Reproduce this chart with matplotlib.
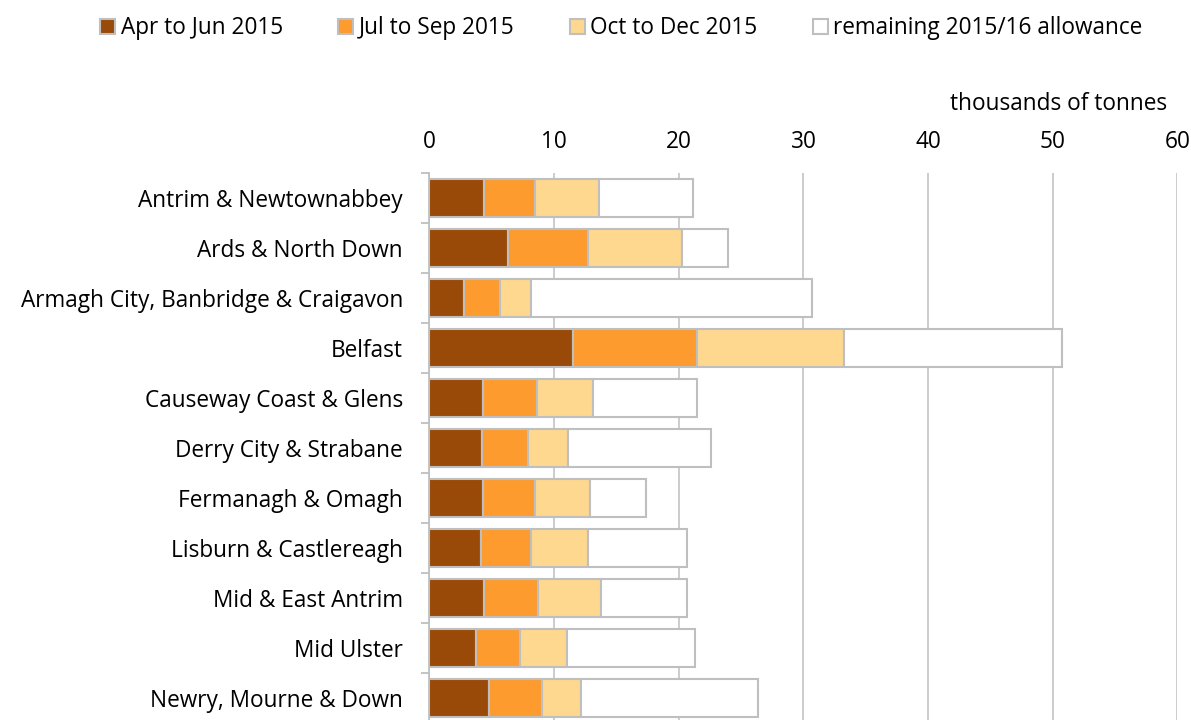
import matplotlib.pyplot as plt
from matplotlib.patches import Patch
import numpy as np

councils = [
    "Antrim & Newtownabbey",
    "Ards & North Down",
    "Armagh City, Banbridge & Craigavon",
    "Belfast",
    "Causeway Coast & Glens",
    "Derry City & Strabane",
    "Fermanagh & Omagh",
    "Lisburn & Castlereagh",
    "Mid & East Antrim",
    "Mid Ulster",
    "Newry, Mourne & Down",
]

# thousands of tonnes
apr_jun = [4.38, 6.29, 2.80, 11.54, 4.33, 4.22, 4.28, 4.17, 4.36, 3.72, 4.76]
jul_sep = [4.11, 6.44, 2.85, 9.96, 4.29, 3.68, 4.21, 3.97, 4.37, 3.58, 4.27]
oct_dec = [5.09, 7.56, 2.49, 11.76, 4.51, 3.19, 4.37, 4.56, 4.99, 3.74, 3.16]
remaining = [7.56, 3.64, 22.58, 17.49, 8.33, 11.48, 4.50, 7.99, 6.92, 10.26, 14.18]

series = [
    ("Apr to Jun 2015", apr_jun, "#9a4a08"),
    ("Jul to Sep 2015", jul_sep, "#fd9b2e"),
    ("Oct to Dec 2015", oct_dec, "#fed88f"),
    ("remaining 2015/16 allowance", remaining, "#ffffff"),
]

plt.rcParams["font.family"] = ["Open Sans", "DejaVu Sans"]
grey = "#bfbfbf"
fs = 16.3

fig = plt.figure(figsize=(11.91, 7.2), dpi=100)
ax = fig.add_axes([0.3606, -0.0042, 0.628, 0.7639])

y = np.arange(len(councils))
left = np.zeros(len(councils))
for name, values, color in series:
    ax.barh(y, values, left=left, height=0.76, color=color,
            edgecolor=grey, linewidth=1.5, zorder=3)
    left += np.array(values)

ax.set_xlim(0, 60)
ax.set_ylim(len(councils) - 0.5, -0.5)
ax.set_xticks(range(0, 61, 10))
ax.xaxis.tick_top()
ax.tick_params(axis="x", length=0, pad=14, labelsize=fs)
ax.grid(axis="x", color="#c8c8c8", linewidth=1.3, zorder=0)

ax.set_yticks(y)
ax.set_yticklabels(councils)
ax.set_yticks(np.arange(-0.5, len(councils), 1), minor=True)
ax.tick_params(axis="y", which="major", length=0, pad=19, labelsize=fs)
ax.tick_params(axis="y", which="minor", length=6, width=1.3, color=grey)

for side in ["top", "right", "bottom"]:
    ax.spines[side].set_visible(False)
ax.spines["left"].set_color(grey)
ax.spines["left"].set_linewidth(1.3)

fig.text(0.9796, 0.856, "thousands of tonnes", ha="right", va="center", fontsize=fs)

handles = [Patch(facecolor=c, edgecolor=grey, linewidth=1.5) for _, _, c in series]
fig.legend(handles, [s[0] for s in series], loc="center", bbox_to_anchor=(0.5218, 0.961),
           ncol=4, frameon=False, fontsize=fs, handlelength=0.65, handleheight=0.65,
           handletextpad=0.25, columnspacing=2.45, borderaxespad=0, borderpad=0)

fig.savefig("out.png", dpi=100)
